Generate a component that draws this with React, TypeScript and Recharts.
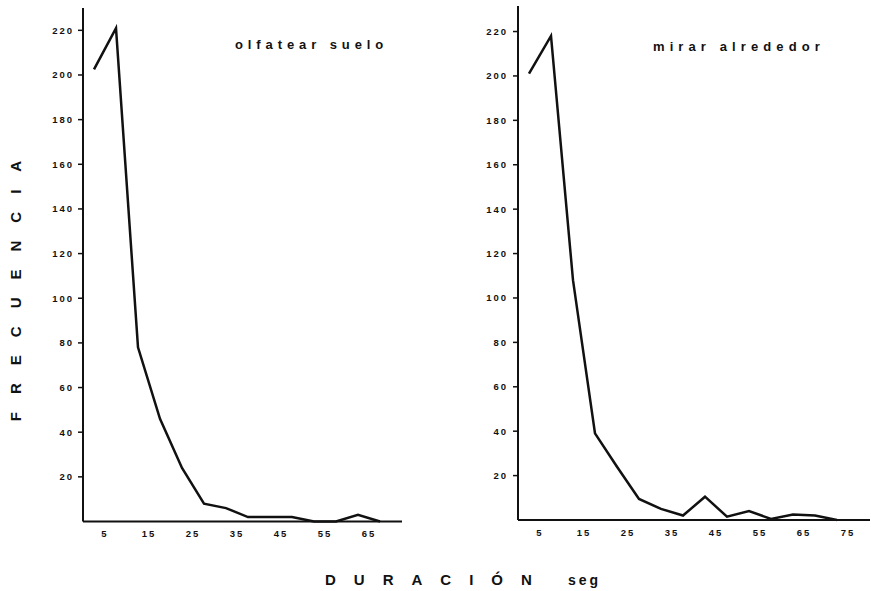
import React from "react";
import { LineChart, Line, XAxis, YAxis } from "recharts";

const durationsLeft = [2.5, 7.5, 12.5, 17.5, 22.5, 27.5, 32.5, 37.5, 42.5, 47.5, 52.5, 57.5, 62.5, 67.5];
const freqLeft = [202.5, 221, 78, 46, 24, 8, 6, 2, 2, 2, 0, 0, 3, 0];

const durationsRight = [2.5, 7.5, 12.5, 17.5, 22.5, 27.5, 32.5, 37.5, 42.5, 47.5, 52.5, 57.5, 62.5, 67.5, 72.5];
const freqRight = [201, 218, 108, 39, 24, 9.5, 5, 2, 10.5, 1.5, 4, 0.5, 2.5, 2, 0];

const yTicks = [20, 40, 60, 80, 100, 120, 140, 160, 180, 200, 220];
const xTicksLeft = [5, 15, 25, 35, 45, 55, 65];
const xTicksRight = [5, 15, 25, 35, 45, 55, 65, 75];

const titleLeft = "olfatear suelo";
const titleRight = "mirar alrededor";
const yLabel = "FRECUENCIA";
const xLabel = "DURACIÓN";
const xUnit = "seg";

const leftData = durationsLeft.map((d, i) => ({ d, f: freqLeft[i] }));
const rightData = durationsRight.map((d, i) => ({ d, f: freqRight[i] }));

const FONT = "'Liberation Sans', Arial, sans-serif";
const tickStyle = { fontSize: 9.5, fontWeight: 700, fill: "#111", letterSpacing: 2, fontFamily: FONT };

export default function App() {
  return (
    <div style={{ position: "absolute", left: 0, top: 0, width: 871, height: 591, background: "#fff", fontFamily: FONT }}>
      <div style={{ position: "absolute", left: 0, top: 0 }}>
        <LineChart width={420} height={591} data={leftData} margin={{ top: 8, left: 43, right: 18, bottom: 39.5 }}>
          <XAxis
            dataKey="d"
            type="number"
            domain={[0, 72.5]}
            ticks={xTicksLeft}
            height={30}
            tickLine={false}
            axisLine={{ stroke: "#111", strokeWidth: 2 }}
            tick={tickStyle}
            tickMargin={3}
          />
          <YAxis
            type="number"
            domain={[0, 230]}
            ticks={yTicks}
            width={40}
            tickSize={5}
            tickMargin={4}
            tickLine={{ stroke: "#111", strokeWidth: 1.5 }}
            axisLine={{ stroke: "#111", strokeWidth: 2 }}
            tick={tickStyle}
          />
          <Line type="linear" dataKey="f" stroke="#111" strokeWidth={2.5} dot={false} isAnimationActive={false} />
        </LineChart>
      </div>
      <div style={{ position: "absolute", left: 440, top: 0 }}>
        <LineChart width={431} height={591} data={rightData} margin={{ top: 6, left: 38, right: 1, bottom: 41 }}>
          <XAxis
            dataKey="d"
            type="number"
            domain={[0, 80]}
            ticks={xTicksRight}
            height={30}
            tickLine={false}
            axisLine={{ stroke: "#111", strokeWidth: 2 }}
            tick={tickStyle}
            tickMargin={3}
          />
          <YAxis
            type="number"
            domain={[0, 231.5]}
            ticks={yTicks}
            width={40}
            tickSize={5}
            tickMargin={5}
            tickLine={{ stroke: "#111", strokeWidth: 1.5 }}
            axisLine={{ stroke: "#111", strokeWidth: 2 }}
            tick={tickStyle}
          />
          <Line type="linear" dataKey="f" stroke="#111" strokeWidth={2.5} dot={false} isAnimationActive={false} />
        </LineChart>
      </div>
      <div style={{ position: "absolute", left: 235, top: 37, fontSize: 13, fontWeight: 700, letterSpacing: 4.9, color: "#111", whiteSpace: "pre" }}>
        {titleLeft}
      </div>
      <div style={{ position: "absolute", left: 653, top: 39, fontSize: 13, fontWeight: 700, letterSpacing: 5.1, color: "#111", whiteSpace: "pre" }}>
        {titleRight}
      </div>
      <svg style={{ position: "absolute", left: 0, top: 0 }} width={40} height={591}>
        <text
          x={0}
          y={0}
          transform="translate(21,282) rotate(-90)"
          textAnchor="middle"
          fontSize={15}
          fontWeight={700}
          letterSpacing={18}
          fill="#111"
          fontFamily={FONT}
        >
          {yLabel}
        </text>
      </svg>
      <svg style={{ position: "absolute", left: 0, top: 560 }} width={871} height={31}>
        <text x={325} y={25} fontSize={15} fontWeight={700} letterSpacing={18} fill="#111" fontFamily={FONT}>
          {xLabel}
        </text>
        <text x={568} y={25} fontSize={14} fontWeight={700} letterSpacing={3} fill="#111" fontFamily={FONT}>
          {xUnit}
        </text>
      </svg>
    </div>
  );
}
